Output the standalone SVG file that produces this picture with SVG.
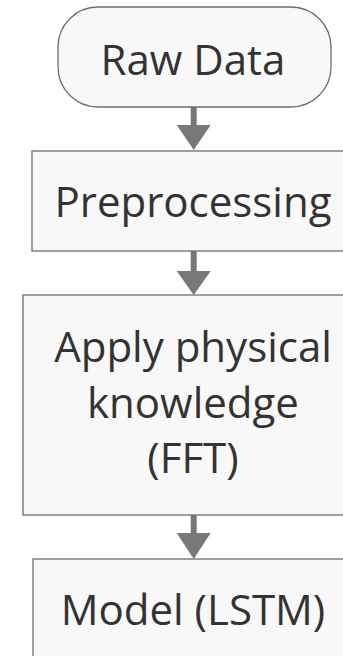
<svg xmlns="http://www.w3.org/2000/svg" width="343" height="656" viewBox="0 0 343 656">
<style>
.box{fill:#f8f8f8;stroke:#6e6e6e;stroke-width:1.3}
.t{font-family:"Open Sans","Noto Sans",sans-serif;font-size:42px;fill:#333;text-anchor:middle}
.sh{stroke:#787878;stroke-width:6}
.hd{fill:#787878}
</style>
<rect width="343" height="656" fill="#fff"/>
<g id="connectors">
<line class="sh" x1="193.7" y1="107" x2="193.7" y2="126"/>
<polygon class="hd" points="176.7,125 210.7,125 193.7,150"/>
<line class="sh" x1="193.7" y1="251" x2="193.7" y2="272"/>
<polygon class="hd" points="176.7,271 210.7,271 193.7,295"/>
<line class="sh" x1="193.7" y1="515" x2="193.7" y2="534"/>
<polygon class="hd" points="176.7,533 210.7,533 193.7,559"/>
</g>
<g id="raw">
<rect class="box" x="58" y="7" width="273" height="100" rx="40" ry="40"/>
<text class="t" x="193" y="75">Raw Data</text>
</g>
<g id="pre">
<rect class="box" x="32" y="151" width="325" height="100"/>
<text class="t" x="193" y="217">Preprocessing</text>
</g>
<g id="apply">
<rect class="box" x="23" y="295" width="343" height="220"/>
<text class="t" x="193" y="362">Apply physical</text>
<text class="t" x="193" y="418">knowledge</text>
<text class="t" x="193" y="473">(FFT)</text>
</g>
<g id="model">
<rect class="box" x="33" y="559" width="323" height="120"/>
<text class="t" x="193" y="625">Model (LSTM)</text>
</g>
</svg>
